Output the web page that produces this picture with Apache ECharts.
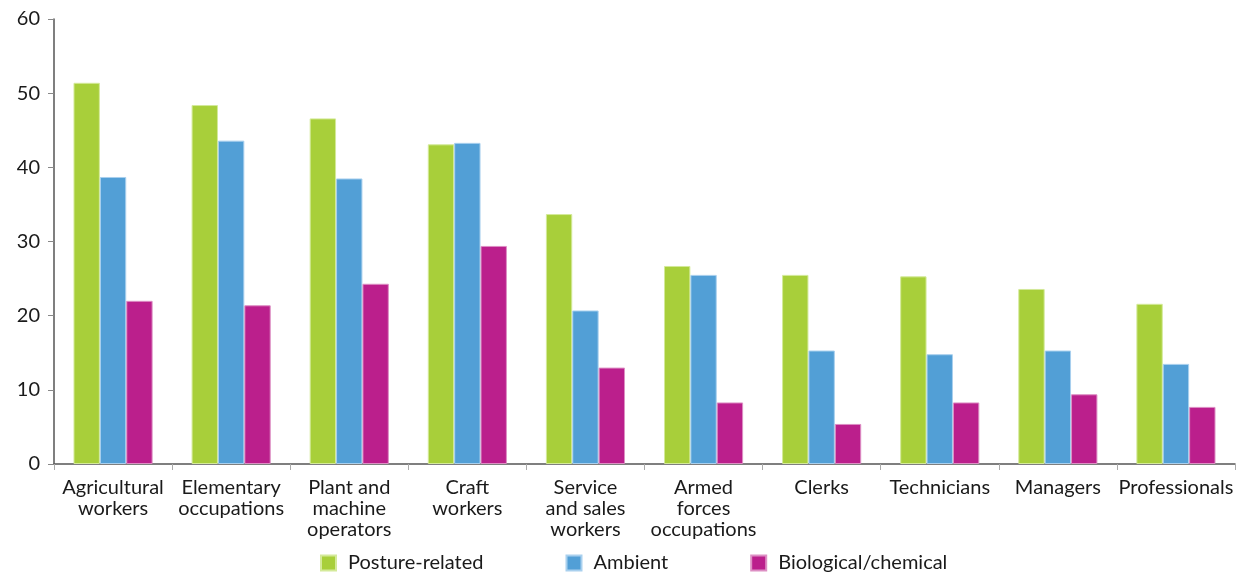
<!DOCTYPE html>
<html>
<head>
<meta charset="utf-8">
<script src="https://cdn.jsdelivr.net/npm/echarts@6/dist/echarts.min.js"></script>
<style>
  html, body { margin: 0; padding: 0; background: #fff; }
  #chart { width: 1245px; height: 578px; }
</style>
</head>
<body>
<div id="chart"></div>
<script>
// Occupational groups along the x axis
const categories = [
  'Agricultural\nworkers',
  'Elementary\noccupations',
  'Plant and\nmachine\noperators',
  'Craft\nworkers',
  'Service\nand sales\nworkers',
  'Armed\nforces\noccupations',
  'Clerks',
  'Technicians',
  'Managers',
  'Professionals'
];

// Share of workers exposed to each risk type (%)
const postureRelated = [51.4, 48.4, 46.6, 43.1, 33.7, 26.7, 25.5, 25.3, 23.6, 21.6];
const ambient        = [38.7, 43.6, 38.5, 43.3, 20.7, 25.5, 15.3, 14.8, 15.3, 13.5];
const biological     = [22.0, 21.4, 24.3, 29.4, 13.0, 8.3, 5.4, 8.3, 9.4, 7.7];

const yTicks = { min: 0, max: 60, interval: 10 };

const FONT = 'Lato';
const colors = ['#a8cf3a', '#529fd6', '#bb1f8c'];
const borders = ['#d4ea9a', '#a9d0ee', '#dd8fc4'];

function barSeries(name, data, i) {
  return {
    name: name,
    type: 'bar',
    data: data,
    barGap: '0%',
    barCategoryGap: '33%',
    itemStyle: { color: colors[i], borderColor: borders[i], borderWidth: 1 },
    emphasis: { disabled: true }
  };
}

const chart = echarts.init(document.getElementById('chart'), null, { renderer: 'canvas' });
chart.setOption({
  animation: false,
  textStyle: { fontFamily: FONT },
  grid: { left: 54, right: 10, top: 19, bottom: 114, containLabel: false },
  legend: {
    top: 553,
    left: 320,
    padding: 0,
    itemWidth: 15,
    itemHeight: 15,
    itemGap: 82,
    icon: 'rect',
    textStyle: { fontFamily: FONT, fontSize: 20, lineHeight: 20, color: '#1a1a1a', padding: [0, 0, 0, 7] },
    data: ['Posture-related', 'Ambient', 'Biological/chemical']
  },
  xAxis: {
    type: 'category',
    data: categories,
    axisLine: { lineStyle: { color: '#555', width: 1.5 } },
    axisTick: { show: true, length: 6, lineStyle: { color: '#aaa' } },
    axisLabel: {
      interval: 0,
      margin: 13,
      fontFamily: FONT,
      fontSize: 20,
      lineHeight: 21,
      color: '#1a1a1a'
    }
  },
  yAxis: {
    type: 'value',
    min: yTicks.min,
    max: yTicks.max,
    interval: yTicks.interval,
    splitLine: { show: false },
    axisLine: { show: true, lineStyle: { color: '#555', width: 1.5 } },
    axisTick: { show: true, length: 6, lineStyle: { color: '#888' } },
    axisLabel: { margin: 14, fontFamily: FONT, fontSize: 20, color: '#1a1a1a' }
  },
  series: [
    barSeries('Posture-related', postureRelated, 0),
    barSeries('Ambient', ambient, 1),
    barSeries('Biological/chemical', biological, 2)
  ]
});
</script>
</body>
</html>
